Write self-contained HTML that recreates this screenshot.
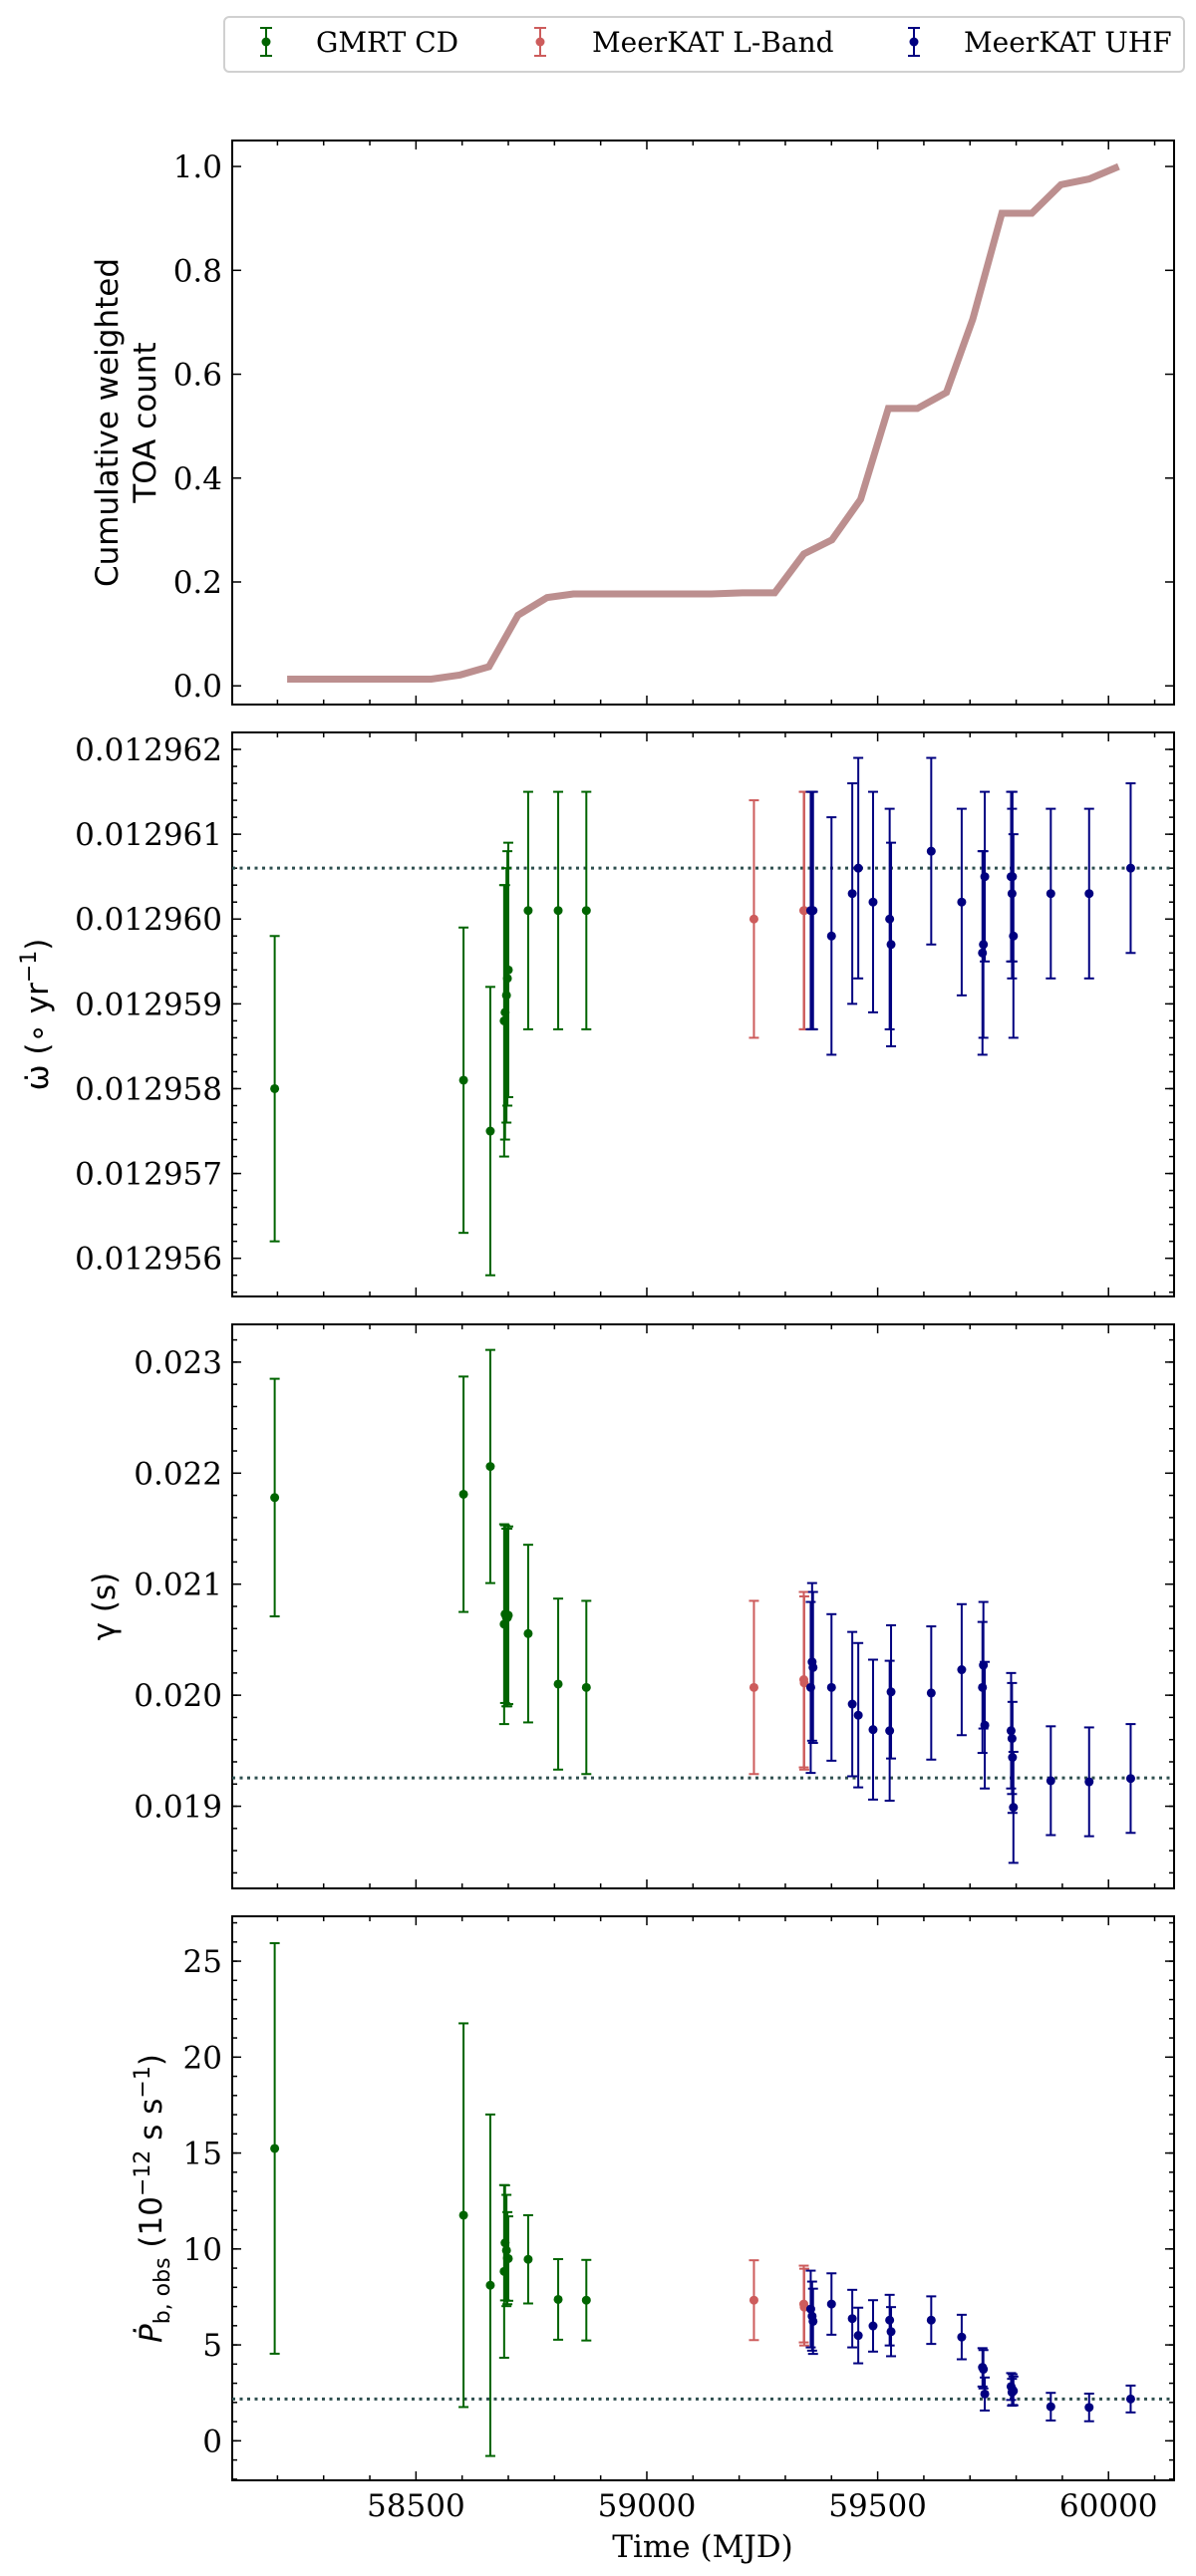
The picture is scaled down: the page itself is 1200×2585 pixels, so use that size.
<!DOCTYPE html>
<html><head><meta charset="utf-8">
<style>
html,body{margin:0;padding:0;background:#fff;}
svg{display:block;}
text{font-family:"DejaVu Sans","Liberation Sans",sans-serif;}
.serif{font-family:"DejaVu Serif","Liberation Serif",serif;}
</style></head>
<body>
<svg id="fig" width="1200" height="2585" viewBox="0 0 1200 2585" xmlns="http://www.w3.org/2000/svg">
  <rect x="0" y="0" width="1200" height="2585" fill="#fff"/>
  <g>
    <rect x="225" y="17" width="963" height="55" rx="5" fill="#fff" stroke="#d0d0d0" stroke-width="2"/>
    <g>
      <line x1="267" y1="28" x2="267" y2="56" stroke="#006400" stroke-width="2"/>
      <line x1="261" y1="28" x2="273" y2="28" stroke="#006400" stroke-width="2"/>
      <line x1="261" y1="56" x2="273" y2="56" stroke="#006400" stroke-width="2"/>
      <circle cx="267" cy="42" r="4.5" fill="#006400"/>
      <text class="serif" x="317" y="52" font-size="28">GMRT CD</text>
    </g>
    <g>
      <line x1="542" y1="28" x2="542" y2="56" stroke="#cd5c5c" stroke-width="2"/>
      <line x1="536" y1="28" x2="548" y2="28" stroke="#cd5c5c" stroke-width="2"/>
      <line x1="536" y1="56" x2="548" y2="56" stroke="#cd5c5c" stroke-width="2"/>
      <circle cx="542" cy="42" r="4.5" fill="#cd5c5c"/>
      <text class="serif" x="594" y="52" font-size="28">MeerKAT L-Band</text>
    </g>
    <g>
      <line x1="917" y1="28" x2="917" y2="56" stroke="#000080" stroke-width="2"/>
      <line x1="911" y1="28" x2="923" y2="28" stroke="#000080" stroke-width="2"/>
      <line x1="911" y1="56" x2="923" y2="56" stroke="#000080" stroke-width="2"/>
      <circle cx="917" cy="42" r="4.5" fill="#000080"/>
      <text class="serif" x="967" y="52" font-size="28">MeerKAT UHF</text>
    </g>
  </g>
</svg>
<script>
// ---- data ----
const cumMJD = [58221,58533,58596,58658,58721,58784,58841,59140,59207,59277,59340,59401,59463,59523,59586,59649,59706,59769,59834,59897,59958,60022];
const cumVal = [0.013,0.013,0.021,0.037,0.136,0.170,0.177,0.177,0.179,0.179,0.254,0.281,0.359,0.534,0.534,0.565,0.706,0.91,0.91,0.965,0.976,1.0];

const gmrtMJD = [58194,58603,58661,58691,58693,58696,58698,58700,58743,58808,58869];
const lbandMJD = [59232,59340,59341];
const uhfMJD = [59355,59358,59360,59400,59445,59458,59490,59526,59529,59616,59682,59727,59729,59732,59789,59791,59792,59794,59875,59958,60048];

// omdot in units of 1e-6 deg/yr offset on 0.012950
const gmrtOmdot = [8.0,8.1,7.5,8.8,8.9,9.1,9.3,9.4,10.1,10.1,10.1];
const gmrtOmdotErr = [1.8,1.8,1.7,1.6,1.5,1.5,1.5,1.5,1.4,1.4,1.4];
const lbandOmdot = [10.0,10.1,10.1];
const lbandOmdotErr = [1.4,1.4,1.4];
const uhfOmdot = [10.1,10.1,10.1,9.8,10.3,10.6,10.2,10.0,9.7,10.8,10.2,9.6,9.7,10.5,10.5,10.3,10.5,9.8,10.3,10.3,10.6];
const uhfOmdotErr = [1.4,1.4,1.4,1.4,1.3,1.3,1.3,1.3,1.2,1.1,1.1,1.2,1.1,1.0,1.0,1.0,1.0,1.2,1.0,1.0,1.0];
const omdotRef = 10.6;

// gamma in ms
const gmrtGamma = [21.78,21.81,22.06,20.64,20.73,20.70,20.70,20.72,20.555,20.10,20.07];
const gmrtGammaErr = [1.07,1.06,1.05,0.9,0.8,0.8,0.8,0.8,0.8,0.77,0.78];
const lbandGamma = [20.07,20.14,20.11];
const lbandGammaErr = [0.78,0.79,0.78];
const uhfGamma = [20.07,20.30,20.25,20.07,19.92,19.82,19.69,19.68,20.03,20.02,20.23,20.07,20.27,19.73,19.68,19.61,19.44,18.99,19.23,19.22,19.25];
const uhfGammaErr = [0.77,0.71,0.68,0.66,0.65,0.65,0.63,0.63,0.6,0.6,0.59,0.59,0.57,0.57,0.52,0.5,0.5,0.5,0.49,0.49,0.49];
const gammaRef = 19.255;

// pbdot in 1e-12 s/s
const gmrtPbdot = [15.24,11.76,8.11,8.83,10.32,9.92,9.52,9.5,9.46,7.37,7.33];
const gmrtPbdotErr = [10.7,10.0,8.9,4.5,3.0,2.9,2.4,2.2,2.3,2.1,2.1];
const lbandPbdot = [7.33,7.13,6.97];
const lbandPbdotErr = [2.08,2.0,2.0];
const uhfPbdot = [6.87,6.5,6.23,7.13,6.37,5.49,5.99,6.29,5.69,6.29,5.41,3.83,3.73,2.44,2.83,2.53,2.67,2.6,1.78,1.74,2.18];
const uhfPbdotErr = [2.0,1.8,1.7,1.6,1.5,1.45,1.34,1.32,1.28,1.24,1.16,1.0,1.0,0.86,0.7,0.7,0.8,0.75,0.72,0.72,0.7];
const pbdotRef = 2.18;

const xTicks = [58500,59000,59500,60000];
const xTickLabels = ['58500','59000','59500','60000'];
const cumTicks = [0,0.2,0.4,0.6,0.8,1.0];
const cumTickLabels = ['0.0','0.2','0.4','0.6','0.8','1.0'];
const omdotTicks = [6,7,8,9,10,11,12];
const omdotTickLabels = ['0.012956','0.012957','0.012958','0.012959','0.012960','0.012961','0.012962'];
const gammaTicks = [19,20,21,22,23];
const gammaTickLabels = ['0.019','0.020','0.021','0.022','0.023'];
const pbdotTicks = [0,5,10,15,20,25];
const pbdotTickLabels = ['0','5','10','15','20','25'];

// ---- layout ----
const NS='http://www.w3.org/2000/svg';
const svg=document.getElementById('fig');
const L=233,R=1178;
const xMin=58102,xMax=60142;
function xs(m){return L+(m-xMin)/(xMax-xMin)*(R-L);}
function mk(tag,attrs,parent){const e=document.createElementNS(NS,tag);for(const k in attrs)e.setAttribute(k,attrs[k]);(parent||svg).appendChild(e);return e;}

const panels=[
 {name:'cumulative',top:141,bot:707,ymin:-0.036,ymax:1.05,ticks:cumTicks,labels:cumTickLabels,minor:0},
 {name:'omdot',top:735,bot:1301,ymin:5.55,ymax:12.2,ticks:omdotTicks,labels:omdotTickLabels,minor:0.2},
 {name:'gamma',top:1329,bot:1895,ymin:18.26,ymax:23.34,ticks:gammaTicks,labels:gammaTickLabels,minor:0.2},
 {name:'pbdot',top:1923,bot:2489,ymin:-2.06,ymax:27.34,ticks:pbdotTicks,labels:pbdotTickLabels,minor:1}
];
panels.forEach(p=>{p.ys=v=>p.bot-(v-p.ymin)/(p.ymax-p.ymin)*(p.bot-p.top);});

function drawAxes(p,i){
  const g=mk('g',{});
  
  
  for(let m=58200;m<=60100;m+=100){
    const x=xs(m);const maj=(m%500===0);const len=maj?9:5;
    mk('line',{x1:x,y1:p.bot,x2:x,y2:p.bot-len,stroke:'#000','stroke-width':1.5},g);
    mk('line',{x1:x,y1:p.top,x2:x,y2:p.top+len,stroke:'#000','stroke-width':1.5},g);
  }
  if(p.minor){
    const start=Math.ceil(p.ymin/p.minor);
    for(let k=start;k*p.minor<=p.ymax;k++){
      const y=p.ys(k*p.minor);
      mk('line',{x1:L,y1:y,x2:L+5,y2:y,stroke:'#000','stroke-width':1.5},g);
      mk('line',{x1:R,y1:y,x2:R-5,y2:y,stroke:'#000','stroke-width':1.5},g);
    }
  }
  p.ticks.forEach((t,j)=>{
    const y=p.ys(t);
    mk('line',{x1:L,y1:y,x2:L+9,y2:y,stroke:'#000','stroke-width':1.5},g);
    mk('line',{x1:R,y1:y,x2:R-9,y2:y,stroke:'#000','stroke-width':1.5},g);
    const tx=mk('text',{x:223,y:y+11,'font-size':31,'text-anchor':'end','class':'serif'},g);
    tx.textContent=p.labels[j];
    
    
  });
  if(i===3){
    xTicks.forEach((t,j)=>{
      const tx=mk('text',{x:xs(t),y:2525,'font-size':31,'text-anchor':'middle','class':'serif'},g);
      tx.textContent=xTickLabels[j];
      
      
    });
  }
  const fr=mk('rect',{x:L,y:p.top,width:R-L,height:p.bot-p.top,fill:'none',stroke:'#000','stroke-width':2},g);
  
  
}
panels.forEach(drawAxes);

{
  const p=panels[0];
  const d=cumMJD.map((m,i)=>(i?'L':'M')+xs(m).toFixed(1)+','+p.ys(cumVal[i]).toFixed(1)).join(' ');
  const path=mk('path',{d:d,fill:'none',stroke:'#bc8f8f','stroke-width':7,'stroke-linejoin':'miter'});
  
  
}

function refLine(p,v,name){
  const ln=mk('line',{x1:L,y1:p.ys(v),x2:R,y2:p.ys(v),stroke:'#2f4f4f','stroke-width':3,'stroke-dasharray':'3,4.5'});
  
  
}
function series(p,mjd,val,err,color,name){
  const g=mk('g',{});
  
  
  mjd.forEach((m,i)=>{
    const x=xs(m),y1=p.ys(val[i]+err[i]),y2=p.ys(val[i]-err[i]);
    mk('line',{x1:x,y1:y1,x2:x,y2:y2,stroke:color,'stroke-width':2},g);
    mk('line',{x1:x-5,y1:y1,x2:x+5,y2:y1,stroke:color,'stroke-width':2},g);
    mk('line',{x1:x-5,y1:y2,x2:x+5,y2:y2,stroke:color,'stroke-width':2},g);
    const c=mk('circle',{cx:x,cy:p.ys(val[i]),r:4.5,fill:color},g);
    
    
  });
}
refLine(panels[1],omdotRef,'omdot-reference-line');
series(panels[1],gmrtMJD,gmrtOmdot,gmrtOmdotErr,'#006400','omdot-gmrt');
series(panels[1],lbandMJD,lbandOmdot,lbandOmdotErr,'#cd5c5c','omdot-lband');
series(panels[1],uhfMJD,uhfOmdot,uhfOmdotErr,'#000080','omdot-uhf');

refLine(panels[2],gammaRef,'gamma-reference-line');
series(panels[2],gmrtMJD,gmrtGamma,gmrtGammaErr,'#006400','gamma-gmrt');
series(panels[2],lbandMJD,lbandGamma,lbandGammaErr,'#cd5c5c','gamma-lband');
series(panels[2],uhfMJD,uhfGamma,uhfGammaErr,'#000080','gamma-uhf');

refLine(panels[3],pbdotRef,'pbdot-reference-line');
series(panels[3],gmrtMJD,gmrtPbdot,gmrtPbdotErr,'#006400','pbdot-gmrt');
series(panels[3],lbandMJD,lbandPbdot,lbandPbdotErr,'#cd5c5c','pbdot-lband');
series(panels[3],uhfMJD,uhfPbdot,uhfPbdotErr,'#000080','pbdot-uhf');
</script>
<script>
(function(){
  const NS='http://www.w3.org/2000/svg';
  const svg=document.getElementById('fig');
  function t(html,x,y,name,rot,cls){
    const e=document.createElementNS(NS,'text');
    e.setAttribute('x',x);e.setAttribute('y',y);
    e.setAttribute('font-size','31');e.setAttribute('text-anchor','middle');
    if(cls)e.setAttribute('class',cls);
    if(rot)e.setAttribute('transform','rotate(-90 '+x+' '+y+')');
    e.innerHTML=html;
    
    
    svg.appendChild(e);
  }
  t('Cumulative weighted',118,424,'cumulative-y-axis-title-line1',true);
  t('TOA count',156,424,'cumulative-y-axis-title-line2',true);
  t('ω̇ (∘ yr<tspan dy="-12" font-size="22">−1</tspan><tspan dy="12">)</tspan>',48,1018,'omdot-y-axis-title',true);
  t('γ (s)',115,1612,'gamma-y-axis-title',true);
  t('<tspan font-style="italic">Ṗ</tspan><tspan dy="8" font-size="22">b, obs</tspan><tspan dy="-8"> (10</tspan><tspan dy="-12" font-size="22">−12</tspan><tspan dy="12"> s s</tspan><tspan dy="-12" font-size="22">−1</tspan><tspan dy="12">)</tspan>',162,2206,'pbdot-y-axis-title',true);
  t('Time (MJD)',705,2566,'x-axis-title',false,'serif');
})();
</script>
</body></html>
